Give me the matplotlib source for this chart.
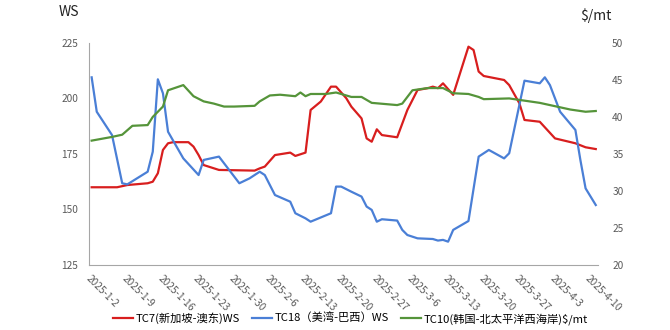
import matplotlib.pyplot as plt
import pandas as pd

plt.rcParams['font.family'] = ['Noto Sans CJK SC', 'DejaVu Sans']

# TC7 (WS, left axis)
tc7_dates = ['2025-01-02', '2025-01-07', '2025-01-09', '2025-01-13', '2025-01-14', '2025-01-15',
             '2025-01-16', '2025-01-17', '2025-01-18', '2025-01-21', '2025-01-22', '2025-01-23',
             '2025-01-24', '2025-01-27', '2025-02-03', '2025-02-04', '2025-02-05', '2025-02-07',
             '2025-02-10', '2025-02-11', '2025-02-13', '2025-02-14', '2025-02-16', '2025-02-18',
             '2025-02-19', '2025-02-21', '2025-02-22', '2025-02-24', '2025-02-25', '2025-02-26',
             '2025-02-27', '2025-02-28', '2025-03-03', '2025-03-05', '2025-03-06', '2025-03-07',
             '2025-03-09', '2025-03-10', '2025-03-11', '2025-03-12', '2025-03-14', '2025-03-17',
             '2025-03-18', '2025-03-19', '2025-03-20', '2025-03-24', '2025-03-25', '2025-03-27',
             '2025-03-28', '2025-03-31', '2025-04-03', '2025-04-07', '2025-04-09', '2025-04-11']
tc7_ws = [160, 160, 161, 161.8, 162.5, 166.3,
          176.8, 179.8, 180.3, 180.3, 178.3, 174.5,
          170, 167.8, 167.5, 168.5, 169.3, 174.5,
          175.6, 174.1, 175.6, 194.8, 198.6, 205.3,
          205.3, 200.1, 196.3, 191, 182, 180.5,
          186.1, 183.5, 182.5, 194.8, 199.3, 203.8,
          204.6, 205.3, 204.6, 206.8, 201.6, 223.3,
          221.8, 212.1, 210.1, 208.3, 206, 197.8,
          190.3, 189.5, 182, 179.8, 178, 177.2]

# TC18 (WS, left axis)
tc18_dates = ['2025-01-02', '2025-01-03', '2025-01-06', '2025-01-08', '2025-01-09', '2025-01-13',
              '2025-01-14', '2025-01-15', '2025-01-16', '2025-01-17', '2025-01-20', '2025-01-23',
              '2025-01-24', '2025-01-27', '2025-01-31', '2025-02-02', '2025-02-04', '2025-02-05',
              '2025-02-07', '2025-02-10', '2025-02-11', '2025-02-13', '2025-02-14', '2025-02-18',
              '2025-02-19', '2025-02-20', '2025-02-22', '2025-02-24', '2025-02-25', '2025-02-26',
              '2025-02-27', '2025-02-28', '2025-03-03', '2025-03-04', '2025-03-05', '2025-03-07',
              '2025-03-10', '2025-03-11', '2025-03-12', '2025-03-13', '2025-03-14', '2025-03-17',
              '2025-03-19', '2025-03-21', '2025-03-24', '2025-03-25', '2025-03-28', '2025-03-31',
              '2025-04-01', '2025-04-02', '2025-04-04', '2025-04-07', '2025-04-08', '2025-04-09',
              '2025-04-11']
tc18_ws = [209.5, 194, 183.5, 161.8, 161.3, 167,
           176, 208.6, 202.3, 185, 173, 165.5,
           172.3, 173.8, 161.8, 164, 167, 165.5,
           156.5, 153.5, 148.3, 146, 144.5, 148.3,
           160.3, 160.3, 158, 155.8, 151.3, 149.8,
           144.5, 145.6, 145, 140.8, 138.5, 137,
           136.7, 136, 136.3, 135.5, 140.8, 144.8,
           173.8, 176.8, 173, 175.3, 208, 206.8,
           209.5, 206, 194, 185.8, 172, 159.5,
           152]

# TC10 ($/mt, right axis)
tc10_dates = ['2025-01-02', '2025-01-06', '2025-01-08', '2025-01-10', '2025-01-13', '2025-01-14',
              '2025-01-16', '2025-01-17', '2025-01-20', '2025-01-22', '2025-01-24', '2025-01-26',
              '2025-01-28', '2025-01-30', '2025-02-03', '2025-02-04', '2025-02-06', '2025-02-08',
              '2025-02-11', '2025-02-12', '2025-02-13', '2025-02-14', '2025-02-17', '2025-02-19',
              '2025-02-20', '2025-02-22', '2025-02-24', '2025-02-26', '2025-03-03', '2025-03-04',
              '2025-03-06', '2025-03-09', '2025-03-12', '2025-03-14', '2025-03-17', '2025-03-19',
              '2025-03-20', '2025-03-25', '2025-03-31', '2025-04-06', '2025-04-09', '2025-04-11']
tc10_usd = [36.8, 37.3, 37.6, 38.8, 38.9, 40.0,
            41.4, 43.6, 44.3, 42.8, 42.1, 41.8,
            41.4, 41.4, 41.5, 42.1, 42.9, 43.0,
            42.8, 43.3, 42.8, 43.1, 43.1, 43.3,
            43.1, 42.7, 42.7, 41.9, 41.6, 41.8,
            43.6, 43.9, 43.9, 43.2, 43.1, 42.7,
            42.4, 42.5, 41.9, 41.0, 40.7, 40.8]

labels = ['TC7(新加坡-澳东)WS', 'TC18（美湾-巴西）WS', 'TC10(韩国-北太平洋西海岸)$/mt']
colors = ['#d81e1e', '#4a7fd6', '#55943a']

fig = plt.figure(figsize=(6.7, 3.3), dpi=100)
ax = fig.add_axes([0.133, 0.197, 0.760, 0.673])
ax2 = ax.twinx()

l1, = ax.plot(pd.to_datetime(tc7_dates), tc7_ws, color=colors[0], lw=1.6, label=labels[0])
l2, = ax.plot(pd.to_datetime(tc18_dates), tc18_ws, color=colors[1], lw=1.6, label=labels[1])
l3, = ax2.plot(pd.to_datetime(tc10_dates), tc10_usd, color=colors[2], lw=1.6, label=labels[2])

ax.set_ylim(125, 225)
ax.set_yticks([125, 150, 175, 200, 225])
ax2.set_ylim(20, 50)
ax2.set_yticks([20, 25, 30, 35, 40, 45, 50])

ticks = pd.date_range('2025-01-02', '2025-04-10', freq='7D')
ax.set_xlim(pd.Timestamp('2025-01-02') - pd.Timedelta(hours=12),
            pd.Timestamp('2025-04-11') + pd.Timedelta(hours=12))
ax.set_xticks(ticks)
ax.set_xticklabels([f'{d.year}-{d.month}-{d.day}' for d in ticks],
                   rotation=-45, ha='left', va='top', rotation_mode='anchor')

for a in (ax, ax2):
    for s in a.spines.values():
        s.set_visible(False)
    a.tick_params(length=0, labelsize=7.3, labelcolor='#595959')
ax.spines['left'].set_visible(True)
ax.spines['bottom'].set_visible(True)
ax.spines['left'].set_color('#a6a6a6')
ax.spines['bottom'].set_color('#a6a6a6')
ax.tick_params(axis='y', pad=8)
ax.tick_params(axis='x', pad=6)
ax2.tick_params(axis='y', pad=10)

fig.text(0.087, 0.985, 'WS', fontsize=10, color='#222222', va='top')
fig.text(0.866, 0.975, '$/mt', fontsize=10, color='#222222', va='top')

fig.legend(handles=[l1, l2, l3], loc='lower center', bbox_to_anchor=(0.523, -0.015), ncol=3,
           frameon=False, fontsize=8.1, handlelength=1.8, columnspacing=1.1, handletextpad=0.2)

plt.savefig('out.png', dpi=100)
